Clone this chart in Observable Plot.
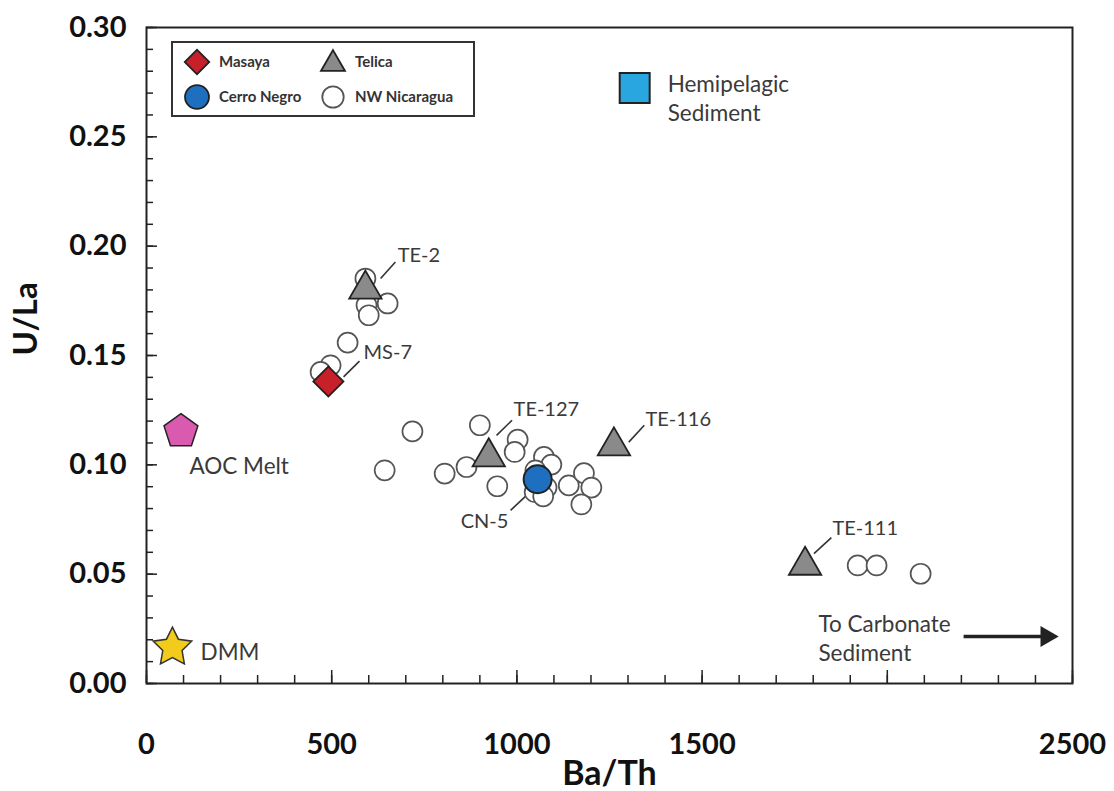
<!DOCTYPE html>
<html><head><meta charset="utf-8">
<script src="https://cdn.jsdelivr.net/npm/d3@7"></script>
<script src="https://cdn.jsdelivr.net/npm/@observablehq/plot@0.6"></script>
<style>body{margin:0;background:#fff} #chart{width:1114px;height:791px}</style>
</head><body><div id="chart"></div>
<script>
// ---- Data ----
const nwBaTh = [591,651,594,600,543,497,470,643,718,805,864,900,947,1002,994,1073,1093,1050,1080,1048,1071,1140,1181,1201,1174,1920,1971,2090];
const nwULa  = [0.1852,0.1738,0.1730,0.1684,0.1559,0.1455,0.1425,0.0975,0.1153,0.0960,0.0990,0.1181,0.0902,0.1115,0.1059,0.1036,0.1001,0.0975,0.0896,0.0876,0.0856,0.0906,0.0962,0.0896,0.0819,0.0540,0.0540,0.0502];

const telicaNames = ["TE-2","TE-127","TE-116","TE-111"];
const telicaBaTh  = [591, 924, 1262, 1778];
const telicaULa   = [0.1803, 0.1036, 0.1086, 0.0540];

const masayaBaTh = [491], masayaULa = [0.1381];
const cerroBaTh = [1056], cerroULa = [0.0934];
const aocBaTh = [93], aocULa = [0.1153];
const dmmBaTh = [70], dmmULa = [0.0165];
const hemiBaTh = [1318], hemiULa = [0.2723];

// annotations (data units)
const sampleLabels = ["TE-2","MS-7","TE-127","TE-116","TE-111"];
const sampleLabelX = [678, 586, 991, 1347, 1852];
const sampleLabelY = [0.1959, 0.1513, 0.1254, 0.1208, 0.0709];
const cnLabel = ["CN-5"], cnLabelX = [977], cnLabelY = [0.0739];
const memberLabels = ["AOC Melt","DMM","Hemipelagic\nSediment","To Carbonate\nSediment"];
const memberLabelX = [116, 146, 1407, 1814];
const memberLabelY = [0.1002, 0.0151, 0.2682, 0.0211];

const leaderX1 = [632, 532, 945, 1302, 1026, 1802];
const leaderY1 = [0.1852, 0.1402, 0.1135, 0.1104, 0.0860, 0.0594];
const leaderX2 = [672, 575, 987, 1344, 983, 1849];
const leaderY2 = [0.1928, 0.1474, 0.1204, 0.1181, 0.0792, 0.0667];

const arrowX1 = [2206], arrowX2 = [2430], arrowY = [0.0215];

const xMinorTicks = d3.range(0, 2501, 100);
const xMajorTicks = d3.range(0, 2501, 500);
const xTickLabels = [0, 500, 1000, 1500, 2500];
const yMinorTicks = d3.range(0, 31).map(d => d / 100);
const yMajorTicks = [0, 0.05, 0.10, 0.15, 0.20, 0.25, 0.30];

// ---- layout ----
const W = 1114, H = 791, mL = 146, mR = 42, mT = 27, mB = 108;
const plotW = W - mL - mR, plotH = H - mT - mB;

// ---- helpers ----
const pts = (xs, ys) => xs.map((x, i) => ({x, y: ys[i]}));
const lbl = (ts, xs, ys) => ts.map((t, i) => ({t, x: xs[i], y: ys[i]}));
const pentagon = {draw(ctx, size) {
  const R = Math.sqrt(size / 2.378);
  for (let i = 0; i < 5; i++) {
    const a = -Math.PI / 2 + i * 2 * Math.PI / 5;
    const px = R * Math.cos(a), py = R * Math.sin(a);
    i ? ctx.lineTo(px, py) : ctx.moveTo(px, py);
  }
  ctx.closePath();
}};
const fatStar = {draw(ctx, size) {
  const R = Math.sqrt(size / 1.6), r = R * 0.5;
  for (let i = 0; i < 10; i++) {
    const a = -Math.PI / 2 + i * Math.PI / 5;
    const rr = i % 2 ? r : R;
    const px = rr * Math.cos(a), py = rr * Math.sin(a);
    i ? ctx.lineTo(px, py) : ctx.moveTo(px, py);
  }
  ctx.closePath();
}};

const leaders = leaderX1.map((x1, i) => ({x1, y1: leaderY1[i], x2: leaderX2[i], y2: leaderY2[i]}));
const telica = telicaNames.map((n, i) => ({n, x: telicaBaTh[i], y: telicaULa[i]}));
const arrows = arrowX1.map((x1, i) => ({x1, x2: arrowX2[i], y: arrowY[i]}));

const ink = "#222";
const txt = "#3a3a3a";

const chart = Plot.plot({
  width: W, height: H,
  marginLeft: mL, marginRight: mR, marginTop: mT, marginBottom: mB,
  style: {fontFamily: "Lato", background: "#fff", overflow: "visible"},
  x: {domain: [0, 2500], axis: null},
  y: {domain: [0, 0.30], axis: null},
  marks: [
    // inward ticks
    Plot.tickX(xMinorTicks, {x: d => d, insetTop: plotH - 8, stroke: ink, strokeWidth: 1.5}),
    Plot.tickX(xMajorTicks, {x: d => d, insetTop: plotH - 13, stroke: ink, strokeWidth: 1.5}),
    Plot.tickY(yMinorTicks, {y: d => d, insetRight: plotW - 7, stroke: ink, strokeWidth: 1.5}),
    Plot.tickY(yMajorTicks, {y: d => d, insetRight: plotW - 11, stroke: ink, strokeWidth: 1.5}),
    // tick labels
    Plot.axisX(xTickLabels, {tickSize: 0, tickPadding: 50, fontSize: 29, fontWeight: "bold", fill: "#111", tickFormat: d3.format("d"), label: null}),
    Plot.axisY(yMajorTicks, {tickSize: 0, tickPadding: 20, fontSize: 29, fontWeight: "bold", fill: "#111", tickFormat: d3.format(".2f"), label: null}),
    Plot.text(["Ba/Th"], {frameAnchor: "bottom", dy: 101, fontSize: 34, fontWeight: "bold", fill: "#111"}),
    Plot.text(["U/La"], {frameAnchor: "left", dx: -120, rotate: -90, fontSize: 33, fontWeight: "bold", fill: "#111"}),
    Plot.frame({stroke: ink, strokeWidth: 2}),

    // leader lines & arrow
    Plot.link(leaders, {x1: "x1", y1: "y1", x2: "x2", y2: "y2", stroke: "#333", strokeWidth: 1.6}),
    Plot.link(arrows, {x1: "x1", x2: "x2", y1: "y", y2: "y", stroke: "#222", strokeWidth: 3.5}),
    Plot.dot(arrows, {x: "x2", y: "y", symbol: "triangle", rotate: 90, r: 7.8, fill: "#222"}),

    // open circles: NW Nicaragua
    Plot.dot(pts(nwBaTh, nwULa), {x: "x", y: "y", r: 10, fill: "#fff", stroke: "#555", strokeWidth: 1.7}),
    // end-members
    Plot.dot(pts(aocBaTh, aocULa), {x: "x", y: "y", symbol: pentagon, r: 15.5, fill: "#D95AAE", stroke: "#222", strokeWidth: 1.5}),
    Plot.dot(pts(dmmBaTh, dmmULa), {x: "x", y: "y", symbol: fatStar, r: 14.5, fill: "#F3CB1B", stroke: "#333", strokeWidth: 1.5}),
    Plot.dot(pts(hemiBaTh, hemiULa), {x: "x", y: "y", symbol: "square", r: 16.9, fill: "#29A6DF", stroke: "#222", strokeWidth: 2}),
    // volcanoes
    Plot.dot(telica, {x: "x", y: "y", symbol: "triangle", r: 12, fill: "#8A8A8A", stroke: "#222", strokeWidth: 1.8}),
    Plot.dot(pts(masayaBaTh, masayaULa), {x: "x", y: "y", symbol: "square", rotate: 45, r: 12, fill: "#C8202A", stroke: "#222", strokeWidth: 1.8}),
    Plot.dot(pts(cerroBaTh, cerroULa), {x: "x", y: "y", r: 14, fill: "#1F6FC0", stroke: "#222", strokeWidth: 2}),

    // labels
    Plot.text(lbl(sampleLabels, sampleLabelX, sampleLabelY), {x: "x", y: "y", text: "t", textAnchor: "start", fontSize: 20, fill: txt}),
    Plot.text(lbl(cnLabel, cnLabelX, cnLabelY), {x: "x", y: "y", text: "t", textAnchor: "end", fontSize: 20, fill: txt}),
    Plot.text(lbl(memberLabels, memberLabelX, memberLabelY), {x: "x", y: "y", text: "t", textAnchor: "start", lineAnchor: "middle", lineHeight: 1.3, fontSize: 22.5, fill: txt})
  ]
});
document.getElementById("chart").append(chart);

// ---- legend box (inside plot, top-left) ----
const svg = d3.select(chart);
const lg = svg.append("g").attr("transform", "translate(172,42)").attr("font-family", "Lato").attr("text-anchor", "start");
lg.append("rect").attr("width", 302).attr("height", 74).attr("fill", "#fff").attr("stroke", "#333").attr("stroke-width", 2);
const legendItems = [
  {name: "Masaya", sym: d3.symbolSquare, size: 300, rot: 45, fill: "#C8202A", stroke: "#222", col: 0, row: 0},
  {name: "Telica", sym: d3.symbolTriangle, size: 250, rot: 0, fill: "#8A8A8A", stroke: "#222", col: 1, row: 0},
  {name: "Cerro Negro", sym: d3.symbolCircle, size: 450, rot: 0, fill: "#1F6FC0", stroke: "#222", col: 0, row: 1},
  {name: "NW Nicaragua", sym: d3.symbolCircle, size: 360, rot: 0, fill: "#fff", stroke: "#555", col: 1, row: 1}
];
legendItems.forEach(d => {
  const gx = 25 + d.col * 136, gy = 20 + d.row * 35;
  const g = lg.append("g").attr("transform", `translate(${gx},${gy})`);
  g.append("path").attr("d", d3.symbol(d.sym, d.size)()).attr("transform", `rotate(${d.rot})${d.sym === d3.symbolTriangle ? " translate(0,2)" : ""}`)
    .attr("fill", d.fill).attr("stroke", d.stroke).attr("stroke-width", 1.8);
  g.append("text").attr("x", 22).attr("dy", "0.35em").attr("text-anchor", "start").attr("font-size", 15).attr("font-weight", "bold").attr("fill", "#333").text(d.name);
});
</script>
</body></html>
